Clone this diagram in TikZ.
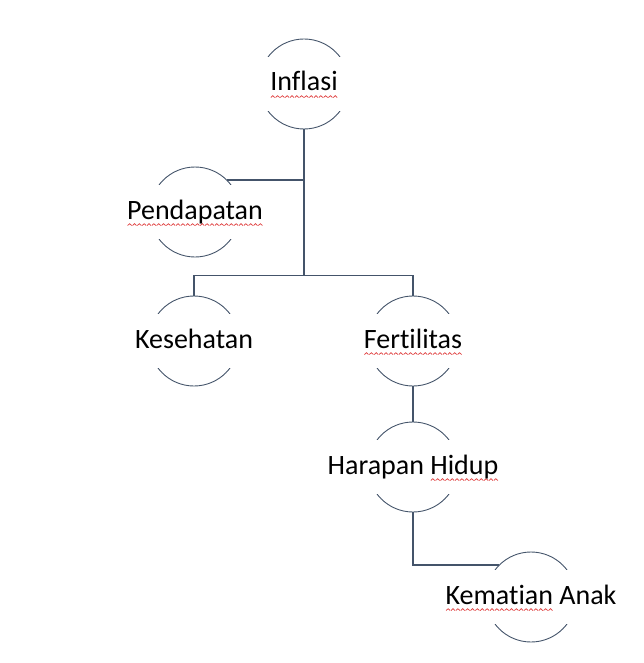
\documentclass[tikz,border=0pt]{standalone}
\usepackage{fontspec}
\setmainfont[Ligatures=NoCommon]{Carlito}
\usetikzlibrary{positioning}
\definecolor{linec}{HTML}{44546A}
\definecolor{spellc}{HTML}{E03C3C}
% red wavy spell-check mark
\newcommand\wavebit{\tikz[x=1pt,y=1pt,baseline=0pt]\draw[spellc,line width=0.7pt] (0,0) -- (2,1.8) -- (4,0);}
\newcommand\spellmark[1]{\setbox0=\hbox{#1}\rlap{\raisebox{-6.5pt}[0pt][0pt]{\hbox to \wd0{\xleaders\hbox{\wavebit}\hfill}}}\box0\relax}

\begin{document}
\begin{tikzpicture}[x=1pt,y=1pt,on grid,
    bub/.style={circle,draw=linec,line width=0.9pt,minimum size=90pt,inner sep=0pt},
    lbl/.style={fill=white,inner sep=0pt,minimum width=100pt,minimum height=54pt,
      text height=19pt,text depth=5pt,font=\fontsize{28}{33}\selectfont},
    link/.style={draw=linec,line width=1.3pt}]
        \useasboundingbox (0,0) rectangle (643,-663);
        \node[bub] (infl) at (304,-84) {};
        \node[bub] (pend) [below left=128pt and 109pt of infl] {};
        \node[bub] (kes) [below left=257pt and 110pt of infl] {};
        \node[bub] (fert) [below right=257pt and 109pt of infl] {};
        \node[bub] (hara) [below=126pt of fert] {};
        \node[bub] (kema) [below right=130pt and 118pt of hara] {};

        \node[lbl] (infl-l) at (infl) {\spellmark{Inflasi}};
        \node[lbl] (pend-l) at (pend) {\spellmark{Pendapatan}};
        \node[lbl] (kes-l) at (kes) {Kesehatan};
        \node[lbl] (fert-l) at (fert) {\spellmark{Fertilitas}};
        \node[lbl] (hara-l) at (hara) {Harapan \spellmark{Hidup}};
        \node[lbl] (kema-l) at (kema) {\spellmark{Kematian} Anak};

        \coordinate (jn) at ([yshift=20pt]infl.south |- kes.north);
        \path[link] (infl.south) -- (jn)
            (jn) -| (kes.north)
            (jn) -| (fert.north)
            (pend.north east) -| (infl.south)
            (fert.south) -- (hara.north)
            (hara.south) |- (kema.north west);
\end{tikzpicture}
\end{document}
